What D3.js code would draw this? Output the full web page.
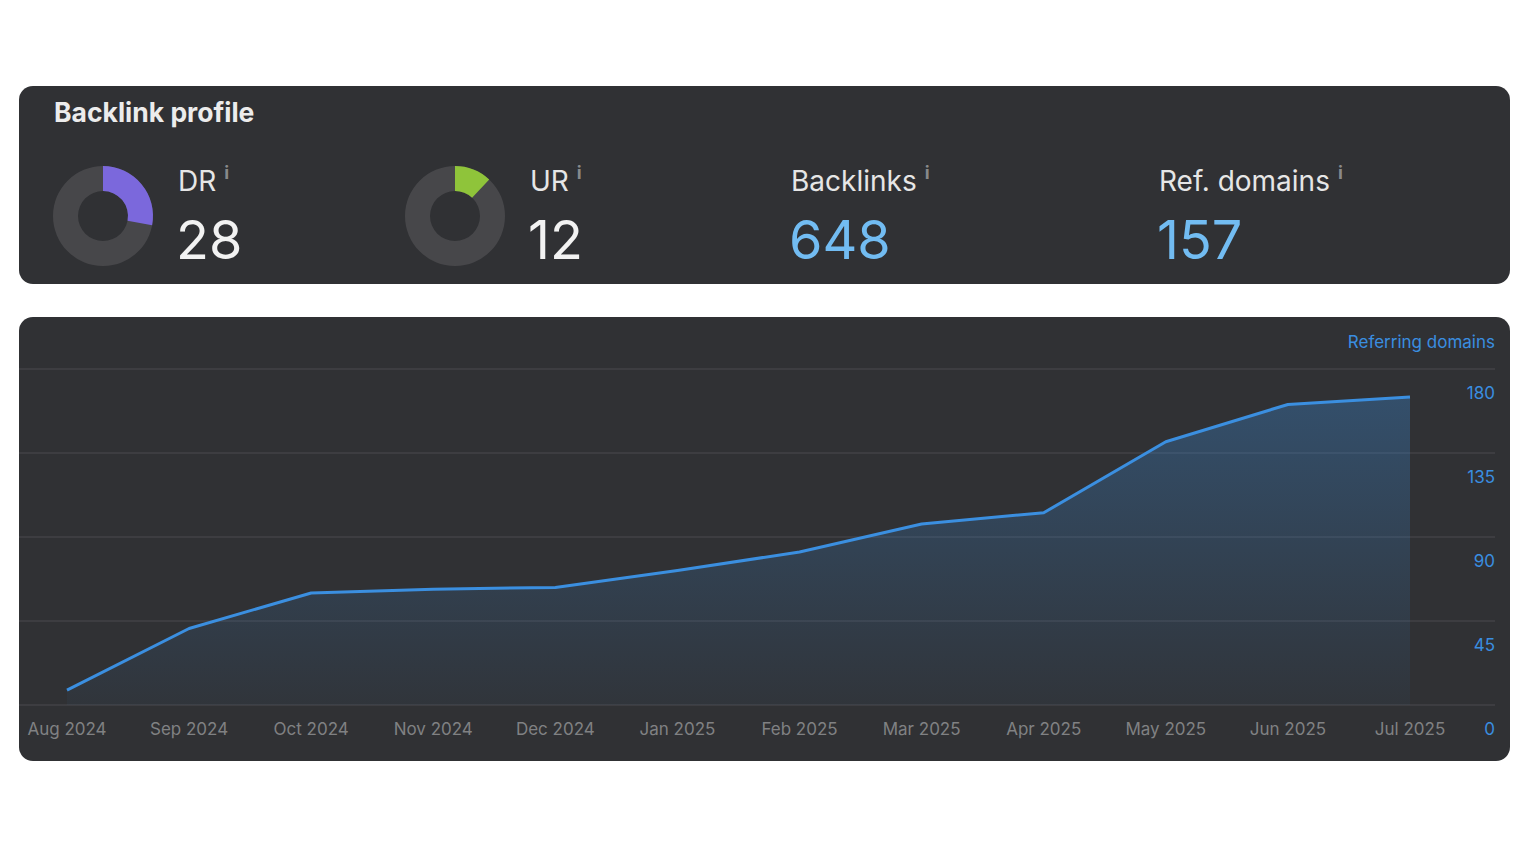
<!DOCTYPE html>
<html>
<head>
<meta charset="utf-8">
<script src="https://cdn.jsdelivr.net/npm/d3@7"></script>
<style>
  body { margin: 0; background: #fff; }
  svg { display: block; font-family: Inter, "Noto Sans", sans-serif; }
</style>
</head>
<body>
<svg id="chart" width="1529" height="860"></svg>
<script>
// Top metrics
const metricNames = ["DR", "UR", "Backlinks", "Ref. domains"];
const metricValues = [28, 12, 648, 157];
const metricX = [178, 530, 791, 1159];
const ratingColors = { DR: "#7b68dc", UR: "#8fc43a" };

// Referring domains over time
const months = ["Aug 2024", "Sep 2024", "Oct 2024", "Nov 2024", "Dec 2024", "Jan 2025",
  "Feb 2025", "Mar 2025", "Apr 2025", "May 2025", "Jun 2025", "Jul 2025"];
const refDomains = [8, 41, 60, 62, 63, 72, 82, 97, 103, 141, 161, 165];
const yTicks = [0, 45, 90, 135, 180];

const svg = d3.select("#chart");
const cardFill = "#303134";

////////////////////////////////////////////////////////////////////////
// Backlink profile card
svg.append("rect")
  .attr("x", 19).attr("y", 86).attr("width", 1491).attr("height", 198)
  .attr("rx", 14).attr("fill", cardFill);

svg.append("text")
  .attr("x", 54).attr("y", 122)
  .attr("font-size", 26.5).attr("font-weight", 700).attr("fill", "#ececec")
  .text("Backlink profile");

let arc = d3.arc().innerRadius(25).outerRadius(50);

metricNames.forEach((name, i) => {
  let x = metricX[i];
  if (ratingColors[name]) {
    let g = svg.append("g").attr("transform", "translate(" + (x - 75) + ",216)");
    g.append("path")
      .attr("d", arc({ startAngle: 0, endAngle: 2 * Math.PI }))
      .attr("fill", "#47474a");
    g.append("path")
      .attr("d", arc({ startAngle: 0, endAngle: 2 * Math.PI * metricValues[i] / 100 }))
      .attr("fill", ratingColors[name]);
  }
  let label = svg.append("text")
    .attr("x", x).attr("y", 191)
    .attr("font-size", 28).attr("fill", "#e6e6e6")
    .text(name);
  let w = label.node().getComputedTextLength();
  svg.append("text")
    .attr("x", x + w + 8).attr("y", 179)
    .attr("font-size", 18).attr("font-weight", 700).attr("fill", "#88898b")
    .text("i");
  svg.append("text")
    .attr("x", x - 2).attr("y", 259)
    .attr("font-size", 54).attr("font-weight", 400)
    .attr("fill", ratingColors[name] ? "#f2f2f2" : "#72bcf2")
    .text(metricValues[i]);
});

////////////////////////////////////////////////////////////////////////
// Referring domains chart card
svg.append("rect")
  .attr("x", 19).attr("y", 317).attr("width", 1491).attr("height", 444)
  .attr("rx", 14).attr("fill", cardFill);

let xScale = d3.scalePoint().domain(months).range([67, 1410]);
let yScale = d3.scaleLinear().domain([0, 180]).range([705, 369]);

let defs = svg.append("defs");
let grad = defs.append("linearGradient")
  .attr("id", "areaGrad").attr("x1", 0).attr("y1", 0).attr("x2", 0).attr("y2", 1);
grad.append("stop").attr("offset", "0%").attr("stop-color", "#3b8fe0").attr("stop-opacity", 0.32);
grad.append("stop").attr("offset", "100%").attr("stop-color", "#3b8fe0").attr("stop-opacity", 0.04);

// gridlines
svg.append("g").selectAll("line")
  .data(yTicks)
  .enter().append("line")
  .attr("x1", 19).attr("x2", 1495)
  .attr("y1", d => yScale(d)).attr("y2", d => yScale(d))
  .attr("stroke", "#4a4b4e").attr("stroke-width", 1.2);

// y labels, sitting under each gridline
svg.append("g").selectAll("text")
  .data(yTicks)
  .enter().append("text")
  .attr("x", 1495).attr("y", d => yScale(d) + 30)
  .attr("text-anchor", "end")
  .attr("font-size", 17).attr("fill", "#3a8ee0")
  .text(d => d);

svg.append("text")
  .attr("x", 1495).attr("y", 348)
  .attr("text-anchor", "end")
  .attr("font-size", 17).attr("fill", "#3a8ee0")
  .text("Referring domains");

// x labels
svg.append("g").selectAll("text")
  .data(months)
  .enter().append("text")
  .attr("x", d => xScale(d)).attr("y", 735)
  .attr("text-anchor", "middle")
  .attr("font-size", 17).attr("fill", "#808183")
  .text(d => d);

let series = months.map((m, i) => ({ m: m, v: refDomains[i] }));

svg.append("path")
  .datum(series)
  .attr("d", d3.area().x(d => xScale(d.m)).y0(yScale(0)).y1(d => yScale(d.v)))
  .attr("fill", "url(#areaGrad)");

svg.append("path")
  .datum(series)
  .attr("d", d3.line().x(d => xScale(d.m)).y(d => yScale(d.v)))
  .attr("fill", "none")
  .attr("stroke", "#3b8fe0").attr("stroke-width", 3)
  .attr("stroke-linejoin", "round");
</script>
</body>
</html>
